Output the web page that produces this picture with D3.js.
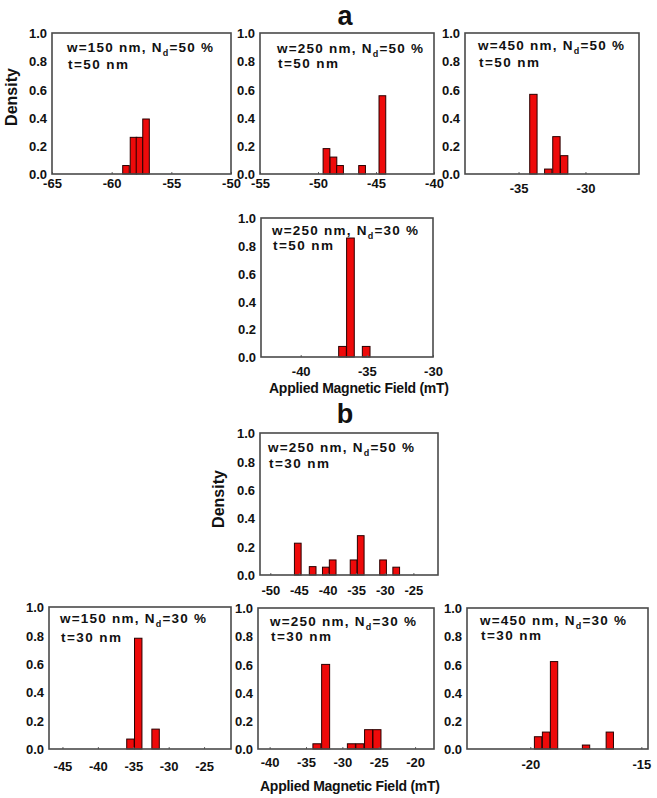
<!DOCTYPE html>
<html>
<head>
<meta charset="utf-8">
<script src="https://cdn.jsdelivr.net/npm/d3@7"></script>
<style>
  body { margin: 0; background: #fff; }
  svg text { font-family: "Liberation Sans", Arial, sans-serif; font-weight: bold; fill: #111; }
</style>
</head>
<body>
<div id="graph"></div>
<script>
"use strict";

let width = 657,
    height = 798;

// bin centres (mT) and densities
const a1_centers = [-58.8, -58.17, -57.67, -57.12];
const a1_values  = [0.06, 0.26, 0.26, 0.39];
const a2_centers = [-49.27, -48.67, -48.1, -46.2, -44.45];
const a2_values  = [0.18, 0.12, 0.06, 0.06, 0.555];
const a3_centers = [-33.89, -32.78, -32.17, -31.59];
const a3_values  = [0.565, 0.035, 0.265, 0.13];
const a4_centers = [-36.84, -36.24, -35.05];
const a4_values  = [0.076, 0.856, 0.076];
const b1_centers = [-45.2, -42.6, -40.3, -39.1, -35.45, -34.2, -30.3, -28.0];
const b1_values  = [0.224, 0.059, 0.055, 0.106, 0.106, 0.277, 0.106, 0.055];
const b2_centers = [-35.4, -34.3, -31.85];
const b2_values  = [0.07, 0.78, 0.14];
const b3_centers = [-33.5, -32.3, -28.76, -27.6, -26.4, -25.24];
const b3_values  = [0.037, 0.60, 0.037, 0.037, 0.137, 0.137];
const b4_centers = [-19.65, -19.29, -18.93, -17.49, -16.42];
const b4_values  = [0.087, 0.12, 0.62, 0.028, 0.12];

const y_ticks = [0, 0.2, 0.4, 0.6, 0.8, 1.0];

const panels = [
  { c: a1_centers, v: a1_values, bw: 0.55, w: 150, nd: 50, t: 50, dom: [-65, -50], ticks: [-65, -60, -55, -50],
    x: 52, y: 33, wd: 179, ht: 141, lab: 14, tx: 15, t1: 19, t2: 36, density: [17, 97] },
  { c: a2_centers, v: a2_values, bw: 0.58, w: 250, nd: 50, t: 50, dom: [-55, -40], ticks: [-55, -50, -45, -40],
    x: 260, y: 33, wd: 174, ht: 141, lab: 14, tx: 17, t1: 20, t2: 35 },
  { c: a3_centers, v: a3_values, bw: 0.55, w: 450, nd: 50, t: 50, dom: [-39, -26], ticks: [-35, -30],
    x: 465, y: 33, wd: 174, ht: 141, lab: 19, tx: 13, t1: 17, t2: 34 },
  { c: a4_centers, v: a4_values, bw: 0.58, w: 250, nd: 30, t: 50, dom: [-43, -30], ticks: [-40, -35, -30],
    x: 261, y: 218, wd: 172, ht: 139, lab: 19, tx: 11, t1: 17, t2: 32, field: [359, 393] },
  { c: b1_centers, v: b1_values, bw: 1.17, w: 250, nd: 50, t: 30, dom: [-51.8, -20.7], ticks: [-50, -45, -40, -35, -30, -25],
    x: 260, y: 433, wd: 178, ht: 142, lab: 20, tx: 8, t1: 19, t2: 35, density: [224, 499] },
  { c: b2_centers, v: b2_values, bw: 1.05, w: 150, nd: 30, t: 30, dom: [-46.9, -21.2], ticks: [-45, -40, -35, -30, -25],
    x: 49, y: 607, wd: 182, ht: 142, lab: 22, tx: 11, t1: 16, t2: 35 },
  { c: b3_centers, v: b3_values, bw: 1.1, w: 250, nd: 30, t: 30, dom: [-41.6, -17.4], ticks: [-40, -35, -30, -25, -20],
    x: 258, y: 608, wd: 176, ht: 141, lab: 18, tx: 12, t1: 18, t2: 33, field: [350, 791] },
  { c: b4_centers, v: b4_values, bw: 0.33, w: 450, nd: 30, t: 30, dom: [-22.85, -14.7], ticks: [-20, -15],
    x: 467, y: 608, wd: 181, ht: 141, lab: 20, tx: 13, t1: 17, t2: 32 },
];

let svg = d3.select("#graph")
  .append("svg")
  .attr("width", width)
  .attr("height", height);

svg.append("text").attr("x", 345).attr("y", 25).attr("text-anchor", "middle")
  .style("font-size", "27px").text("a");
svg.append("text").attr("x", 345).attr("y", 423).attr("text-anchor", "middle")
  .style("font-size", "27px").text("b");

panels.forEach(p => drawPanel(p));

function drawPanel(p) {
  let g = svg.append("g").attr("transform", "translate(" + p.x + "," + p.y + ")");

  let x = d3.scaleLinear().domain(p.dom).range([0, p.wd]);
  let y = d3.scaleLinear().domain([0, 1]).range([p.ht, 0]);

  // bars
  g.selectAll("rect.bar")
    .data(p.c.map((c, i) => ({ c: c, v: p.v[i] })))
    .enter()
    .append("rect")
    .attr("class", "bar")
    .attr("x", d => x(d.c - p.bw / 2))
    .attr("width", d => x(d.c + p.bw / 2) - x(d.c - p.bw / 2))
    .attr("y", d => y(d.v))
    .attr("height", d => p.ht - y(d.v))
    .attr("fill", "#ee0a0a")
    .attr("stroke", "#2a0000")
    .attr("stroke-width", 1);

  // axes (labels only, tiny inner ticks)
  let xAxis = g.append("g").attr("transform", "translate(0," + p.ht + ")")
    .call(d3.axisBottom(x).tickValues(p.ticks).tickSize(-2).tickPadding(p.lab - 9)
      .tickFormat(d => String(d)));
  xAxis.select(".domain").remove();
  xAxis.selectAll("line").attr("stroke", "#666");
  xAxis.selectAll("text").style("font-size", "13px").attr("font-family", null).attr("fill", "#111");

  let yAxis = g.append("g")
    .call(d3.axisLeft(y).tickValues(y_ticks).tickSize(0).tickPadding(5).tickFormat(d3.format(".1f")));
  yAxis.select(".domain").remove();
  yAxis.selectAll("text").style("font-size", "13px").attr("font-family", null).attr("fill", "#111")
    .attr("dy", "0.36em");

  // frame
  g.append("rect")
    .attr("width", p.wd).attr("height", p.ht)
    .attr("fill", "none").attr("stroke", "#4a4a4a").attr("stroke-width", 1.6);

  // annotation
  let t1 = g.append("text").attr("x", p.tx).attr("y", p.t1).style("font-size", "13.5px")
    .attr("textLength", 146).attr("lengthAdjust", "spacing");
  t1.append("tspan").text("w=" + p.w + " nm, N");
  t1.append("tspan").attr("dy", 4).style("font-size", "9px").text("d");
  t1.append("tspan").attr("dy", -4).text("=" + p.nd + " %");
  g.append("text").attr("x", p.tx + 1).attr("y", p.t2).style("font-size", "13.5px")
    .attr("textLength", 60).attr("lengthAdjust", "spacing")
    .text("t=" + p.t + " nm");

  if (p.density) {
    svg.append("text")
      .attr("transform", "translate(" + p.density[0] + "," + p.density[1] + ") rotate(-90)")
      .attr("text-anchor", "middle")
      .style("font-size", "16px")
      .text("Density");
  }
  if (p.field) {
    svg.append("text")
      .attr("x", p.field[0]).attr("y", p.field[1])
      .attr("text-anchor", "middle")
      .style("font-size", "14px")
      .attr("textLength", 180).attr("lengthAdjust", "spacing")
      .text("Applied Magnetic Field (mT)");
  }
}
</script>
</body>
</html>
